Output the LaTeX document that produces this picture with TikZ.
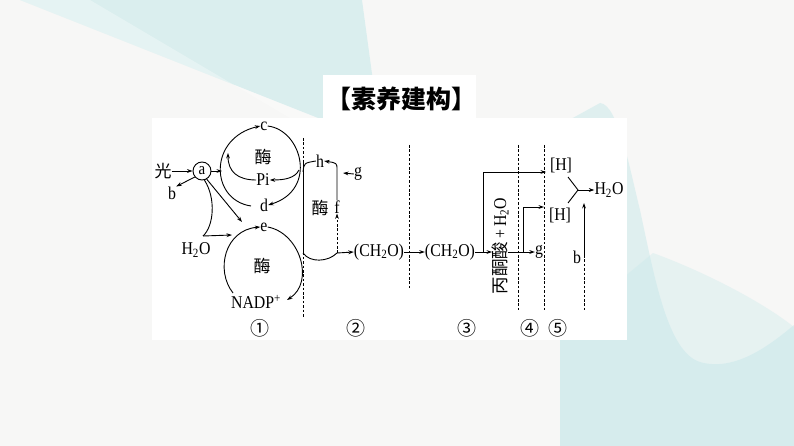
\documentclass[tikz,border=0pt]{standalone}
\usepackage{fontspec}
\setmainfont[FakeStretch=0.88]{Liberation Serif}
\newfontfamily\cjk{Noto Sans CJK SC}
\usetikzlibrary{arrows.meta}
\definecolor{bgc}{RGB}{247,247,246}
\definecolor{teal1}{RGB}{200,233,234}
\tikzset{
  lbl/.style={inner sep=0pt, font=\fontsize{18}{18}\selectfont},
  cjklbl/.style={inner sep=0pt, font=\cjk\fontsize{17}{17}\selectfont},
  numlbl/.style={inner sep=0pt, font=\cjk\fontsize{19}{19}\selectfont},
  arr/.style={-{Stealth[length=5.5pt,width=3.8pt]}, line width=0.9pt},
  ln/.style={line width=0.9pt},
  dsh/.style={line width=0.85pt, dash pattern=on 2.6pt off 1.8pt},
}
\begin{document}
\begin{tikzpicture}[x=1pt,y=-1pt]
\useasboundingbox (0,0) rectangle (794,446);
% background
\fill[bgc] (0,0) rectangle (794,446);
\fill[teal1,opacity=0.6] (20,0) -- (362,0) -- (378,118) -- (318,118) -- cycle;
\fill[white,opacity=0.3] (20,0) -- (90,0) -- (290,118) -- (318,118) -- cycle;
\fill[teal1,opacity=0.5] (600,103) .. controls (618,104) and (630,170) .. (640,210)
   .. controls (655,280) and (668,352) .. (700,362)
   .. controls (735,372) and (770,345) .. (794,325) -- (794,446) -- (560,446) -- (560,125) -- cycle;
\fill[teal1,opacity=0.35] (560,330) -- (653,253) .. controls (700,270) and (760,300) .. (794,327)
   -- (794,446) -- (560,446) -- cycle;
% panels
\fill[white] (152,118) rectangle (627,340);
\fill[white] (323,75) rectangle (476,118);
\node[inner sep=0pt, font=\cjk\bfseries\fontsize{25}{25}\selectfont] (title) at (401,99) {【素养建构】};

% nodes
\node[cjklbl] (guang) at (163,171) {光};
\node[circle,draw,line width=0.9pt,inner sep=0pt,minimum size=18pt,font=\fontsize{17}{17}\selectfont] (a) at (202,171) {a};
\node[lbl] (b1) at (172,193) {b};
\node[lbl] (c) at (264,126) {c};
\node[cjklbl] (m1) at (263,157) {酶};
\node[lbl] (pi) at (263,180) {Pi};
\node[lbl] (d) at (264,205) {d};
\node[lbl] (e) at (264,227) {e};
\node[lbl] (h2oa) at (196,250) {H\textsubscript{2}O};
\node[cjklbl] (m2) at (262,266) {酶};
\node[lbl] (nadp) at (256,302) {NADP\textsuperscript{+}};
\node[lbl] (h) at (320,161) {h};
\node[lbl] (g1) at (358,174) {g};
\node[cjklbl] (m3) at (320,208) {酶};
\node[lbl] (f) at (337,207) {f};
\node[lbl] (ch1) at (379,252) {(CH\textsubscript{2}O)};
\node[lbl] (ch2) at (450,252) {(CH\textsubscript{2}O)};
\node[lbl,rotate=90] (bt) at (500,246) {{\cjk\fontsize{17.5}{17.5}\selectfont 丙酮酸}\,+\,H\textsubscript{2}O};
\node[lbl] (g2) at (539,252) {g};
\node[lbl] (H1) at (561,165) {[H]};
\node[lbl] (H2) at (560,215) {[H]};
\node[lbl] (h2ob) at (609,190) {H\textsubscript{2}O};
\node[lbl] (b2) at (577,257) {b};
\node[numlbl] (n1) at (260,328) {①};
\node[numlbl] (n2) at (356,328) {②};
\node[numlbl] (n3) at (467,328) {③};
\node[numlbl] (n4) at (530,328) {④};
\node[numlbl] (n5) at (558,328) {⑤};

% coordinates
\coordinate (ul) at (222,171);
\coordinate (ae) at (242,222);
\coordinate (w) at (203,236);
\coordinate (wr) at (232,235);
\coordinate (j) at (337,253);
\coordinate (vt) at (303,160);
\coordinate (vb) at (303,253);
\coordinate (p1) at (483,252);
\coordinate (p2) at (523,252);
\coordinate (q1) at (546,172);
\coordinate (q2) at (544,207);
\coordinate (yj) at (578,190);
\coordinate (bb) at (584,255);
\coordinate (bt2) at (584,203);

% dashed dividers
\draw[dsh] (303,138) -- (303,318);
\draw[dsh] (409,145) -- (409,290);
\draw[dsh] (518,145) -- (518,312);
\draw[dsh] (544,145) -- (544,312);
\draw[dsh] (bb) -- (584,312);

% left part
\draw[arr] (guang) -- (a);
\draw[arr] (a) -- (ul);
\draw[arr] (a.-140) -- (b1.north east);
\draw[arr] (a.-60) -- (ae);
\draw[ln] (a.-75) .. controls (216,198) and (214,226) .. (w);
\draw[arr] (w) -- (wr);
% upper cycle
\draw[arr] (251,206) .. controls (210,200) and (208,138) .. (c.west);
\draw[arr] (c.east) .. controls (302,130) and (318,190) .. (d.east);
\draw[arr] (299,170) .. controls (295,178) and (285,180) .. (pi.east);
\draw[arr] (pi.west) .. controls (238,180) and (228,172) .. (228,153);
% lower cycle
\draw[arr] (233,293) .. controls (215,270) and (225,230) .. (e.west);
\draw[arr] (e.east) .. controls (300,233) and (315,282) .. (287,300);
% middle
\draw[ln] (vt) -- (vb);
\draw[ln] (303,172) .. controls (304,163) .. (h.west);
\draw[ln] (vb) .. controls (310,263) and (328,262) .. (j);
\draw[arr] (j) -- (ch1.west);
\draw[arr,dsh] (j) -- (f.south);
\draw[arr] (f.north) -- (337,170) .. controls (337,163) .. (h.east);
\draw[arr] (g1.west) -- (343,173);
\draw[arr] (ch1) -- (ch2);
% right part
\draw[arr] (ch2.east) -- (492,252);
\draw[arr] (508,252) -- (g2.west);
\draw[arr] (p1) |- (q1);
\draw[arr] (p2) |- (q2);
\draw[ln] (568,177) -- (yj) -- (568,203);
\draw[arr] (yj) -- (h2ob.west);
\draw[arr] (bb) -- (bt2);
\end{tikzpicture}
\end{document}
